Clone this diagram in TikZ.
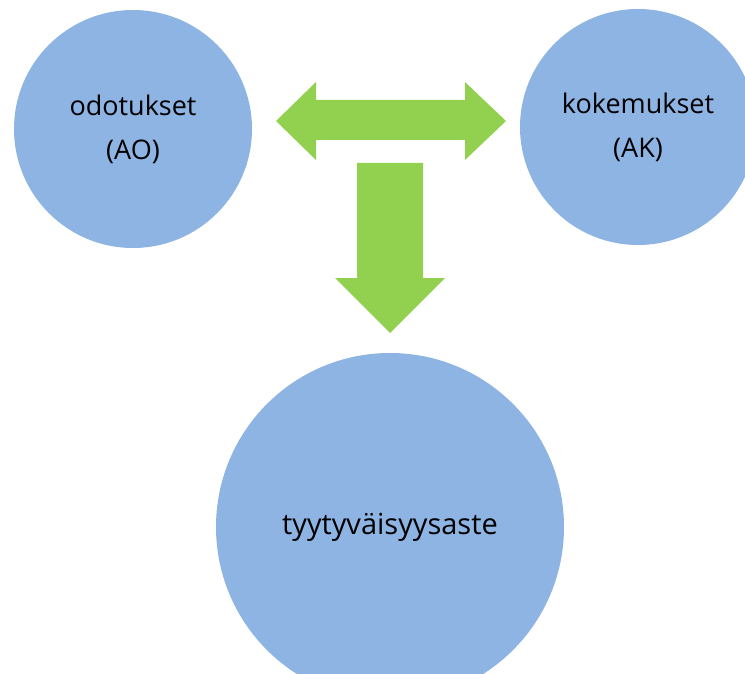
\documentclass[tikz,border=0pt]{standalone}
\usepackage{fontspec}
\setmainfont{Open Sans}
\usepackage{tikz}

\definecolor{ballblue}{HTML}{8EB4E3}
\definecolor{arrowgreen}{HTML}{92D050}

\begin{document}
\begin{tikzpicture}[x=1pt,y=-1pt,
  ball/.style={circle,fill=ballblue,draw=none,inner sep=0pt,align=center,
    font=\fontsize{27}{44}\selectfont},
  blockarrow/.style={fill=arrowgreen,draw=none}]
\useasboundingbox (0,0) rectangle (745,674);
\clip (0,0) rectangle (745,674);
\node[ball, minimum size=238pt] (AO) at (133,129) {odotukset\\(AO)};
\node[ball, minimum size=236pt] (AK) at (638,127) {kokemukset\\(AK)};
\node[ball, minimum size=348pt, font=\fontsize{29}{44}\selectfont] (TA) at (390,527) {tyytyväisyysaste};
% double arrow between the upper circles
\fill[blockarrow] (276,121) -- (316,82) -- (316,100) -- (465,100) -- (465,82)
  -- (506,121) -- (465,160) -- (465,140) -- (316,140) -- (316,160) -- cycle;
% arrow down to the lower circle
\fill[blockarrow] (357,163) -- (423,163) -- (423,278) -- (445,278) -- (390,333)
  -- (335,278) -- (357,278) -- cycle;
\end{tikzpicture}
\end{document}
